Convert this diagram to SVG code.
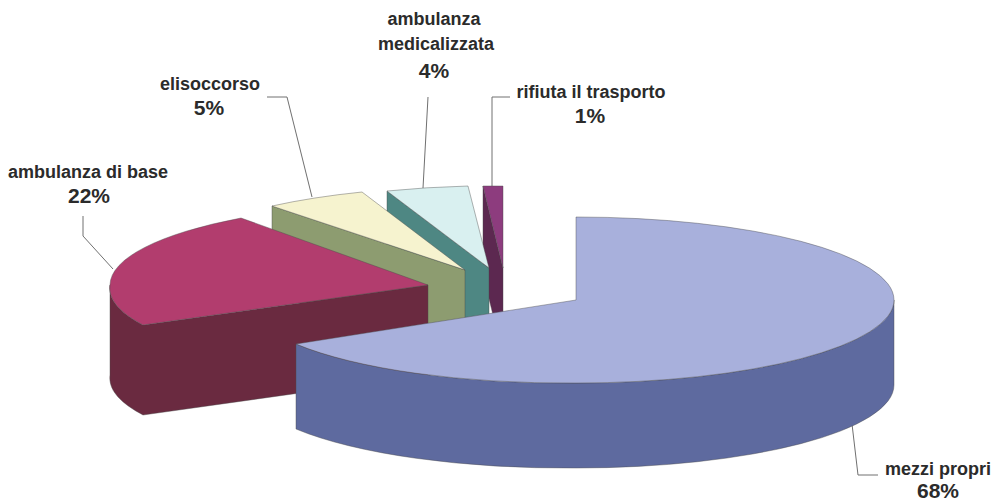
<svg xmlns="http://www.w3.org/2000/svg" width="993" height="502" viewBox="0 0 993 502">
<style>
.lbl{font-family:"Liberation Sans",Arial,Helvetica,sans-serif;font-weight:bold;fill:#2b2b2b;text-anchor:middle}
.name{font-size:18px}
.pct{font-size:21px}
.face{stroke:#4a4a4a;stroke-width:0.6;stroke-opacity:0.7;stroke-linejoin:round}
.lead{fill:none;stroke:#707070;stroke-width:1}
</style>
<rect width="993" height="502" fill="#ffffff"/>
<g id="connectors">
<polyline class="lead" points="83,216 83,236 113,269"/>
<polyline class="lead" points="267,97 287,97 312,197"/>
<polyline class="lead" points="428,97 423,188"/>
<polyline class="lead" points="510,97 492,97 492,186"/>
<polyline class="lead" points="852,424 858,475 878,475"/>
</g>
<g id="rifiuta">
<path class="face" fill="#5c2850" d="M483,186 L503,268 L503,356 L483,274 Z"/>
<path class="face" fill="#8d3c7e" d="M503,268 L483,186 A318 83 0 0 1 503,186 Z"/>
<text class="lbl name" x="591" y="98">rifiuta il trasporto</text>
<text class="lbl pct" x="590" y="123">1%</text>
</g>
<g id="medicalizzata">
<path class="face" fill="#4e8783" d="M387,191 L489,268 L489,356 L387,279 Z"/>
<path class="face" fill="#d9f0f0" d="M489,268 L387,191 A318 83 0 0 1 468,186 Z"/>
<text class="lbl name" x="434" y="25">ambulanza</text>
<text class="lbl name" x="436" y="50">medicalizzata</text>
<text class="lbl pct" x="434" y="78">4%</text>
</g>
<g id="elisoccorso">
<path class="face" fill="#8d9c70" d="M272,206 L465,270 L465,358 L272,294 Z"/>
<path class="face" fill="#f6f3cf" d="M465,270 L272,206 A318 83 0 0 1 362,192 Z"/>
<text class="lbl name" x="210" y="90">elisoccorso</text>
<text class="lbl pct" x="209" y="115">5%</text>
</g>
<g id="base">
<path class="face" fill="#6a2a40" d="M110,285 A318 83 0 0 0 143,325 L428,285 L428,375 L143,415 A318 83 0 0 1 110,375 Z"/>
<path class="face" fill="#b23d6e" d="M428,285 L143,325 A318 83 0 0 1 110,285 A318 83 0 0 1 241,218 Z"/>
<text class="lbl name" x="88" y="178">ambulanza di base</text>
<text class="lbl pct" x="89" y="203">22%</text>
</g>
<g id="mezzi">
<path class="face" fill="#5e6a9f" d="M894,300 A318 83 0 0 1 576,383 A318 83 0 0 1 296,344 L296,429 A318 83 0 0 0 576,468 A318 83 0 0 0 894,385 Z"/>
<path class="face" fill="#a8b0dc" d="M576,300 L576,217 A318 83 0 0 1 894,300 A318 83 0 0 1 576,383 A318 83 0 0 1 296,344 Z"/>
<text class="lbl name" x="938" y="475">mezzi propri</text>
<text class="lbl pct" x="938" y="498">68%</text>
</g>
</svg>
